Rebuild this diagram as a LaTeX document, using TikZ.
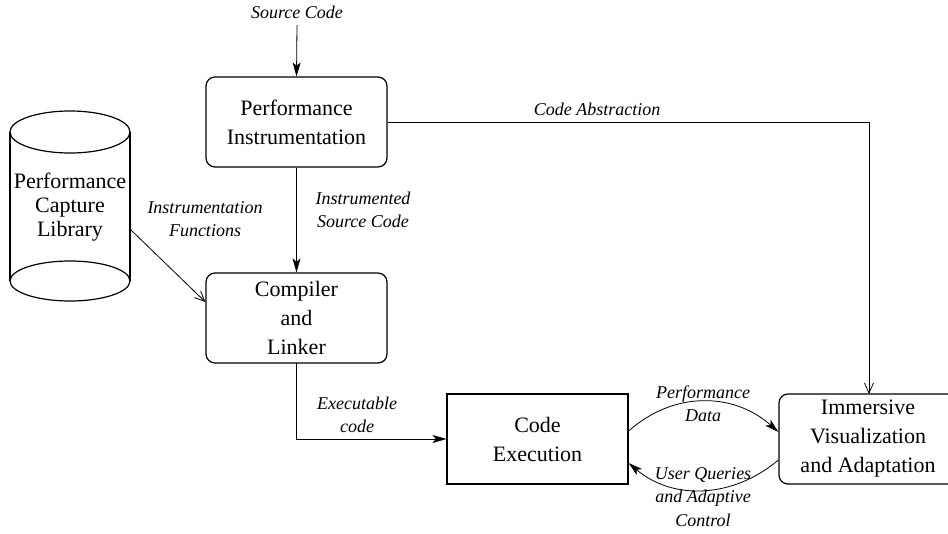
\documentclass[tikz,border=0pt]{standalone}
\usepackage{fontspec}
\setmainfont{Liberation Serif}
\usetikzlibrary{arrows.meta,calc}
\begin{document}
\begin{tikzpicture}[x=1pt,y=-1pt,
  box/.style={draw,line width=1.2pt,minimum width=181pt,minimum height=90pt,align=center,
    font=\fontsize{22}{29}\selectfont,inner sep=0pt},
  rbox/.style={box,rounded corners=9pt},
  lbl/.style={align=center,font=\fontsize{18}{23.5}\selectfont\itshape,inner sep=0pt},
  conn/.style={line width=0.8pt},
  fa/.style={conn,-{Stealth[length=14pt,width=8pt,inset=3.5pt]}},
  va/.style={conn,-{Straight Barb[length=10pt,width=9pt]}}]
\useasboundingbox (0,0) rectangle (948,533);
\clip (0,0) rectangle (948,533);
% cylinder
\draw[line width=1.2pt] (10,132) -- (10,281) (130,132) -- (130,281);
\draw[line width=1.2pt] (70,132) ellipse [x radius=60pt, y radius=21pt];
\draw[line width=1.2pt] (70,281) ellipse [x radius=60pt, y radius=20pt];
\node[align=center,font=\fontsize{22}{24}\selectfont] (lib) at (70,207) {Performance\\Capture\\Library};
\coordinate (cylr) at (131,230);
% boxes
\node[rbox] (pi) at (296.5,122) {Performance\\Instrumentation};
\node[rbox] (cl) at (296.5,318) {Compiler\\and\\Linker};
\node[box] (ce) at (537.5,439) {Code\\Execution};
\node[rbox,minimum width=178pt] (iv) at (868,439) {Immersive\\Visualization\\and Adaptation};
% labels
\node[lbl] (src) at (297,12) {Source Code};
\node[lbl] (isc) at (363,210) {Instrumented\\Source Code};
\node[lbl] (ifn) at (205,219) {Instrumentation\\Functions};
\node[lbl] (cab) at (597,109) {Code Abstraction};
\node[lbl] (exc) at (357,415) {Executable\\code};
\node[lbl] (pd) at (703,404) {Performance\\Data};
\node[lbl] (uq) at (703,497) {User Queries\\and Adaptive\\Control};
% connectors
\draw[fa] (297,25) -- (pi.north);
\draw[fa] (pi.south) -- (cl.north);
\draw[va] (cylr) -- ([yshift=16pt]cl.west);
\draw[va] (pi.east) -- (869,122) -- (869,394);
\draw[fa] (296,363) -- (296,439) -- (ce.west);
\draw[fa] ([yshift=8pt]ce.east) .. controls +(45,-40) and +(-45,-40) .. ([yshift=7pt]iv.west);
\draw[fa] ([yshift=-21pt]iv.west) .. controls +(-45,38) and +(45,38) .. ([yshift=-24pt]ce.east);
\end{tikzpicture}
\end{document}
